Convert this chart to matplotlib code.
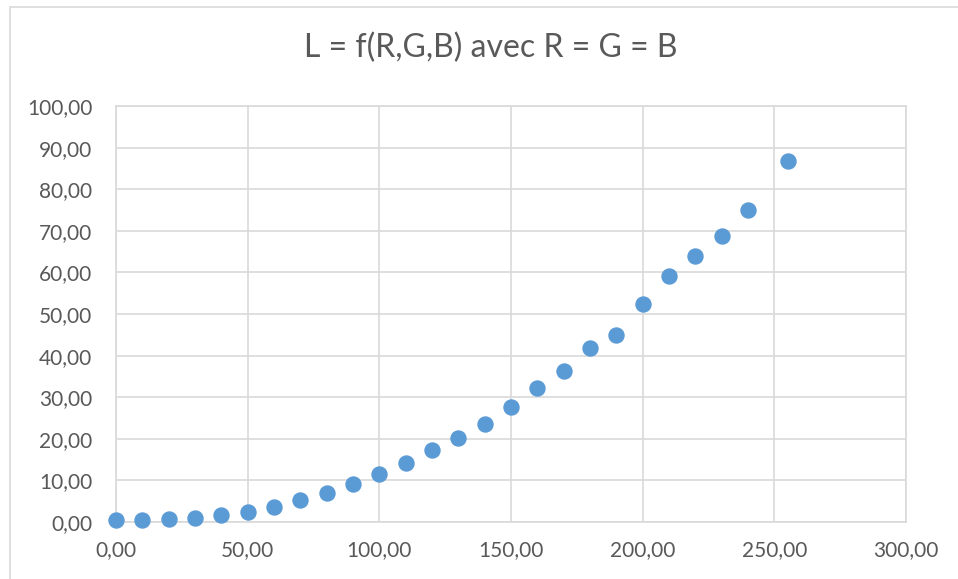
import matplotlib.pyplot as plt
from matplotlib.patches import Rectangle
from matplotlib.ticker import FuncFormatter, MultipleLocator

# grey level R = G = B
rgb = [0, 10, 20, 30, 40, 50, 60, 70, 80, 90, 100, 110, 120, 130, 140, 150,
       160, 170, 180, 190, 200, 210, 220, 230, 240, 255]
# luminance L
lum = [0.5, 0.6, 0.7, 1.0, 1.7, 2.5, 3.7, 5.2, 7.0, 9.2, 11.5, 14.2, 17.2, 20.1,
       23.5, 27.7, 32.1, 36.4, 41.8, 44.9, 52.3, 59.2, 64.0, 68.8, 74.9, 86.8]

title = 'L = f(R,G,B) avec R = G = B'

plt.rcParams['font.family'] = ['Lato', 'DejaVu Sans']
grid_col = '#d9d9d9'
text_col = '#595959'

fig = plt.figure(figsize=(9.58, 5.79), dpi=100)
ax = fig.add_axes([116/958, 57/579, 790/958, 416/579])

# outer chart border
fig.patches.append(Rectangle((10/958, -0.1), 1.2, 1 - 7/579 + 0.1,
                             transform=fig.transFigure, fill=False,
                             edgecolor=grid_col, linewidth=1.2))

ax.plot(rgb, lum, 'o', color='#5b9bd5', markersize=10.8, zorder=3, clip_on=False)

ax.set_xlim(0, 300)
ax.set_ylim(0, 100)
ax.xaxis.set_major_locator(MultipleLocator(50))
ax.yaxis.set_major_locator(MultipleLocator(10))
fmt = FuncFormatter(lambda v, p: f'{v:.2f}'.replace('.', ','))
ax.xaxis.set_major_formatter(fmt)
ax.yaxis.set_major_formatter(fmt)

ax.grid(True, color=grid_col, linewidth=1.2)
ax.set_axisbelow(True)
for s in ax.spines.values():
    s.set_color(grid_col)
    s.set_linewidth(1.2)
ax.tick_params(length=0, labelsize=15, labelcolor=text_col)
ax.tick_params(axis='y', pad=17)
ax.tick_params(axis='x', pad=13)

fig.text(491/958, 1 - 48/579, title, ha='center', va='center',
         fontsize=23, color=text_col)

plt.savefig('out.png', dpi=100)
